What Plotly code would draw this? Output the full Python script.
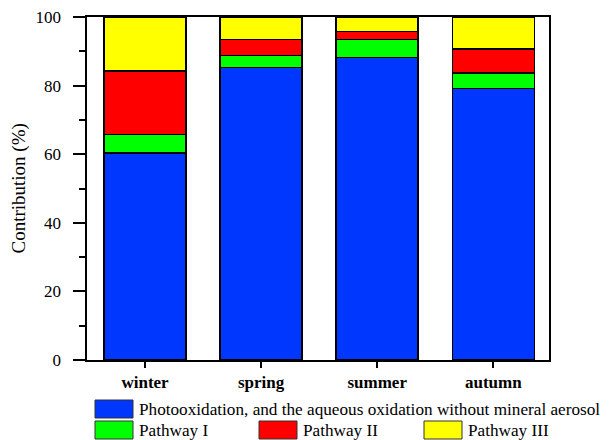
import plotly.graph_objects as go

seasons = ["winter", "spring", "summer", "autumn"]
photo = [60.4, 85.3, 88.2, 79.2]
pathway1 = [5.3, 3.5, 5.3, 4.5]
pathway2 = [18.6, 4.6, 2.3, 6.9]
pathway3 = [15.7, 6.6, 4.2, 9.4]

series = [
    ("Photooxidation, and the aqueous oxidation without mineral aerosol", photo, "#0037ff"),
    ("Pathway I", pathway1, "#00ff00"),
    ("Pathway II", pathway2, "#ff0000"),
    ("Pathway III", pathway3, "#ffff00"),
]

FONT = "Liberation Serif"
W, H = 613, 440
L, R, T, B = 87, 64, 17, 80
pw, ph = W - L - R, H - T - B

fig = go.Figure()
for name, vals, col in series:
    fig.add_trace(go.Bar(x=seasons, y=vals, name=name,
                         marker=dict(color=col, line=dict(color="black", width=1.5)),
                         showlegend=False))

def px(x):
    return (x - L) / pw

def py(y):
    return (H - B - y) / ph

legend_items = [
    (series[0][0], series[0][2], 95, 400),
    (series[1][0], series[1][2], 95, 421),
    (series[2][0], series[2][2], 259, 421),
    (series[3][0], series[3][2], 424, 421),
]
for name, col, x0, y0 in legend_items:
    fig.add_shape(type="rect", xref="paper", yref="paper",
                  x0=px(x0), x1=px(x0 + 38), y0=py(y0), y1=py(y0 + 18),
                  fillcolor=col, line=dict(color="#333333", width=1))
    fig.add_annotation(xref="paper", yref="paper", x=px(x0 + 42), y=py(y0 + 9),
                       text=name, showarrow=False, xanchor="left", yanchor="middle",
                       font=dict(family=FONT, size=17.2, color="black"))

fig.add_annotation(xref="paper", yref="paper", x=px(18), y=0.5, textangle=-90,
                   text="Contribution (%)", showarrow=False,
                   xanchor="center", yanchor="middle",
                   font=dict(family=FONT, size=19, color="black"))

fig.update_layout(
    barmode="stack", bargap=0.293,
    width=W, height=H,
    margin=dict(l=L, r=R, t=T, b=B),
    paper_bgcolor="white", plot_bgcolor="white",
    font=dict(family=FONT, color="black"),
)
fig.update_xaxes(range=[-0.5, 3.48], showline=True, linewidth=2, linecolor="black",
                 mirror=True, ticks="outside", ticklen=6, tickwidth=2, tickcolor="black",
                 tickfont=dict(family=FONT, size=17, color="black", weight="bold"),
                 showgrid=False, automargin=False)
fig.update_yaxes(range=[0, 100], dtick=20, showline=True, linewidth=2, linecolor="black",
                 mirror=True, ticks="outside", ticklen=12, tickwidth=2, tickcolor="black",
                 minor=dict(dtick=10, ticks="outside", ticklen=6, tickwidth=2, tickcolor="black"),
                 tickfont=dict(family=FONT, size=17, color="black"),
                 ticksuffix="\u2002",
                 showgrid=False, zeroline=False, automargin=False)

fig.write_html("out.html")
